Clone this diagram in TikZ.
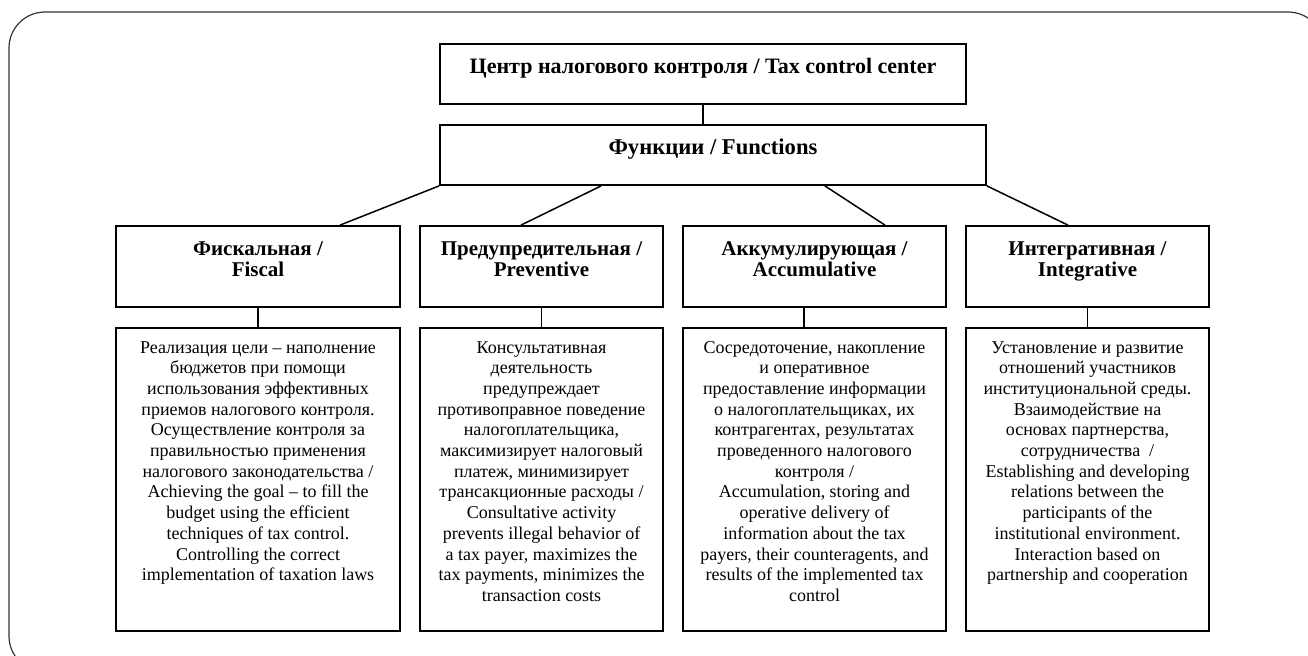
\documentclass[tikz,border=0pt]{standalone}
\usepackage{fontspec}
\setmainfont{Liberation Serif}
\usetikzlibrary{positioning,calc}

% boxes of fixed size, text set from the top
\newcommand{\headtext}[4][10.5]{\parbox[c][#3][t]{#2}{\centering\fontsize{#1}{10.5}\selectfont\bfseries\rule{0pt}{14.5pt}#4}}
\newcommand{\desctext}[3]{\parbox[c][#2][t]{#1}{\centering\fontsize{9}{10.35}\selectfont\rule{0pt}{12.5pt}#3}}

\begin{document}
\begin{tikzpicture}[x=0.5pt,y=-0.5pt,
    box/.style={draw,line width=0.9pt,inner sep=0pt},
    link/.style={line width=0.75pt}]
    \useasboundingbox (0,0) rectangle (1308,655);

    % outer frame
    \begin{scope}
    \clip (0,0) rectangle (1308,655);
    \draw[line width=0.6pt,black!80,rounded corners=18pt] (9,12) rectangle (1324,672);
    \end{scope}

    % centre and functions
    \node[box] at (703,74) (ctr) {\headtext[11]{263pt}{30pt}{Центр налогового контроля / Tax control center}};
    \node[box] at (713,155) (fn) {\headtext[11.3]{273pt}{30pt}{Функции / Functions}};

    % first set
    \node[box] at (258,266.5) (f1) {\headtext{142pt}{40.5pt}{Фискальная /\\Fiscal}};
    \node[box] at (541.5,266.5) (f2) {\headtext{121.5pt}{40.5pt}{Предупредительная /\\Preventive}};
    \node[box] at (814.5,266.5) (f3) {\headtext{131.5pt}{40.5pt}{Аккумулирующая /\\Accumulative}};
    \node[box] at (1087.5,266.5) (f4) {\headtext{121.5pt}{40.5pt}{Интегративная /\\Integrative}};

    % second set
    \node[box] at (258,479.5) (d1) {\desctext{142pt}{151.5pt}{Реализация цели – наполнение\\
        бюджетов при помощи\\
        использования эффективных\\
        приемов налогового контроля.\\
        Осуществление контроля за\\
        правильностью применения\\
        налогового законодательства /\\
        Achieving the goal – to fill the\\
        budget using the efficient\\
        techniques of tax control.\\
        Controlling the correct\\
        implementation of taxation laws}};
    \node[box] at (541.5,479.5) (d2) {\desctext{121.5pt}{151.5pt}{Консультативная\\
        деятельность\\
        предупреждает\\
        противоправное поведение\\
        налогоплательщика,\\
        максимизирует налоговый\\
        платеж, минимизирует\\
        трансакционные расходы /\\
        Consultative activity\\
        prevents illegal behavior of\\
        a tax payer, maximizes the\\
        tax payments, minimizes the\\
        transaction costs}};
    \node[box] at (814.5,479.5) (d3) {\desctext{131.5pt}{151.5pt}{Сосредоточение, накопление\\
        и оперативное\\
        предоставление информации\\
        о налогоплательщиках, их\\
        контрагентах, результатах\\
        проведенного налогового\\
        контроля /\\
        Accumulation, storing and\\
        operative delivery of\\
        information about the tax\\
        payers, their counteragents, and\\
        results of the implemented tax\\
        control}};
    \node[box] at (1087.5,479.5) (d4) {\desctext{121.5pt}{151.5pt}{Установление и развитие\\
        отношений участников\\
        институциональной среды.\\
        Взаимодействие на\\
        основах партнерства,\\
        сотрудничества~ /\\
        Establishing and developing\\
        relations between the\\
        participants of the\\
        institutional environment.\\
        Interaction based on\\
        partnership and cooperation}};

    % connections
    \draw[link] (ctr.south) -- (ctr.south |- fn.north);
    \draw[link] (fn.south west) -- ([xshift=41pt]f1.north);
    \draw[link] ([xshift=81pt]fn.south west) -- ([xshift=-10.25pt]f2.north);
    \draw[link] ([xshift=-81pt]fn.south east) -- ([xshift=35.25pt]f3.north);
    \draw[link] (fn.south east) -- ([xshift=-9.75pt]f4.north);
    \foreach \i/\dx in {1/0,2/0,3/-5.25,4/0}
        \draw[link] ([xshift=\dx pt]f\i.south) -- ([xshift=\dx pt]d\i.north);
\end{tikzpicture}
\end{document}
